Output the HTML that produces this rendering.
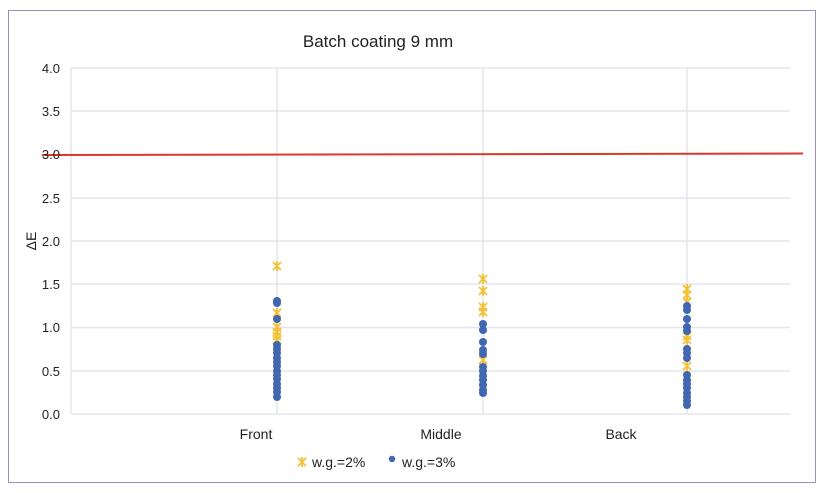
<!DOCTYPE html>
<html><head><meta charset="utf-8"><style>
html,body{margin:0;padding:0;background:#fff;}
svg{display:block;font-family:"Liberation Sans",sans-serif;}
</style></head><body>
<svg width="821" height="493" viewBox="0 0 821 493">
<defs>
<g id="s"><path d="M-4,-4L4,4M-4,4L4,-4M0,-5V5" stroke="#F2C036" stroke-width="1.8" fill="none"/></g>
<circle id="c" r="4" fill="#4067B0"/>
</defs>
<rect x="8.5" y="10.5" width="807" height="472" fill="#fff" stroke="#9A8FC0" stroke-width="1"/>
<text x="378" y="47" font-size="17" text-anchor="middle" fill="#222">Batch coating 9 mm</text>
<g stroke="#E4E6EE" stroke-width="1.5">
<line x1="71" x2="790" y1="68" y2="68"/><line x1="71" x2="790" y1="111" y2="111"/>
<line x1="71" x2="790" y1="198" y2="198"/><line x1="71" x2="790" y1="241" y2="241"/>
<line x1="71" x2="790" y1="284" y2="284"/><line x1="71" x2="790" y1="327.5" y2="327.5"/>
<line x1="71" x2="790" y1="371" y2="371"/><line x1="71" x2="790" y1="414" y2="414"/>
<line x1="71" x2="71" y1="68" y2="414"/>
<line x1="277" x2="277" y1="68" y2="414"/><line x1="483" x2="483" y1="68" y2="414"/><line x1="687" x2="687" y1="68" y2="414"/>
</g>
<line x1="42" y1="155" x2="803" y2="153.5" stroke="#D9382E" stroke-width="2"/>
<g font-size="13" fill="#222" text-anchor="end">
<text x="60" y="73">4.0</text><text x="60" y="116">3.5</text><text x="60" y="159">3.0</text>
<text x="60" y="203">2.5</text><text x="60" y="246">2.0</text><text x="60" y="289">1.5</text>
<text x="60" y="332">1.0</text><text x="60" y="376">0.5</text><text x="60" y="419">0.0</text>
</g>
<text x="36" y="241" font-size="14" fill="#222" transform="rotate(-90 36 241)" text-anchor="middle">ΔE</text>
<g font-size="14" fill="#222" text-anchor="middle">
<text x="256" y="439">Front</text><text x="441" y="439">Middle</text><text x="621" y="439">Back</text>
</g>
<!-- Front -->
<g transform="translate(277,0)">
<use href="#s" y="266"/><use href="#s" y="327"/><use href="#s" y="332"/><use href="#s" y="336"/><use href="#s" y="340"/><use href="#s" y="313"/>
<use href="#c" y="397"/><use href="#c" y="392"/><use href="#c" y="388"/><use href="#c" y="384"/><use href="#c" y="379"/><use href="#c" y="375"/><use href="#c" y="371"/><use href="#c" y="366"/><use href="#c" y="362"/><use href="#c" y="358"/><use href="#c" y="353"/><use href="#c" y="349"/><use href="#c" y="345"/><use href="#c" y="319"/><use href="#c" y="303"/><use href="#c" y="301"/>
</g>
<!-- Middle -->
<g transform="translate(483,0)">
<use href="#s" y="279"/><use href="#s" y="291"/><use href="#s" y="307"/><use href="#s" y="312"/><use href="#s" y="360"/>
<use href="#c" y="324"/><use href="#c" y="330"/><use href="#c" y="342"/><use href="#c" y="350"/><use href="#c" y="354"/><use href="#c" y="367"/><use href="#c" y="371"/><use href="#c" y="376"/><use href="#c" y="380"/><use href="#c" y="385"/><use href="#c" y="390"/><use href="#c" y="393"/>
</g>
<!-- Back -->
<g transform="translate(687,0)">
<use href="#s" y="289"/><use href="#s" y="295"/><use href="#s" y="302"/><use href="#s" y="336"/><use href="#s" y="340"/><use href="#s" y="366"/>
<use href="#c" y="306"/><use href="#c" y="310"/><use href="#c" y="319"/><use href="#c" y="327"/><use href="#c" y="331"/><use href="#c" y="349"/><use href="#c" y="353"/><use href="#c" y="358"/><use href="#c" y="375"/><use href="#c" y="380"/><use href="#c" y="384"/><use href="#c" y="388"/><use href="#c" y="393"/><use href="#c" y="397"/><use href="#c" y="401"/><use href="#c" y="405"/>
</g>
<use href="#s" x="302" y="462"/>
<text x="312" y="467" font-size="14" fill="#222">w.g.=2%</text>
<circle cx="392" cy="459" r="3.2" fill="#4067B0"/>
<text x="402" y="467" font-size="14" fill="#222">w.g.=3%</text>
</svg>
</body></html>
